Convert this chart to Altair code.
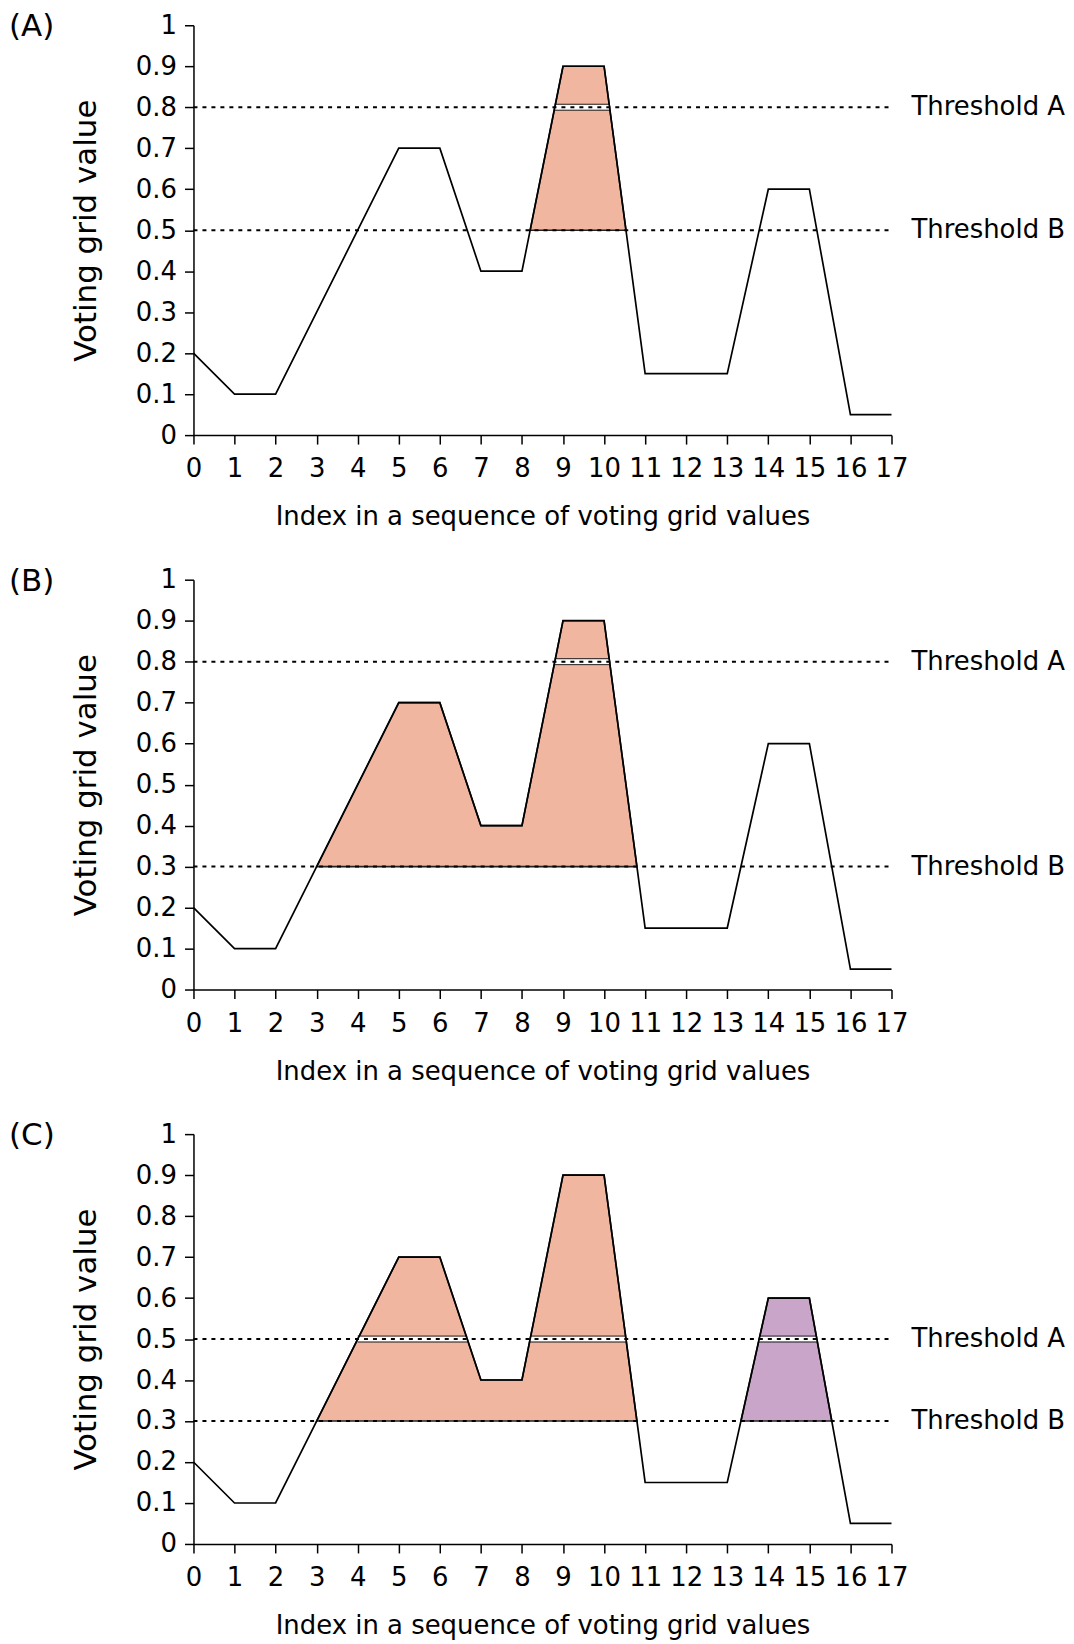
import altair as alt
import pandas as pd

# ---- data ----
index = list(range(18))
values = [0.2, 0.1, 0.1, 0.3, 0.5, 0.7, 0.7, 0.4, 0.4, 0.9, 0.9, 0.15, 0.15, 0.15, 0.6, 0.6, 0.05, 0.05]
panel_labels = ["(A)", "(B)", "(C)"]
thresholds_a = [0.8, 0.8, 0.5]
thresholds_b = [0.5, 0.3, 0.3]
region_colors = ["#F0B6A0", "#C9A6C9"]
x_ticks = list(range(18))
y_ticks = [0, 0.1, 0.2, 0.3, 0.4, 0.5, 0.6, 0.7, 0.8, 0.9, 1]
x_title = "Index in a sequence of voting grid values"
y_title = "Voting grid value"

FONT = "DejaVu Sans"
W, H = 700, 411


def with_crossings(level):
    pts = []
    for i in range(len(index)):
        x, v = index[i], values[i]
        if i > 0:
            x0, v0 = index[i - 1], values[i - 1]
            if (v0 - level) * (v - level) < 0:
                xc = x0 + (level - v0) / (v - v0) * (x - x0)
                pts.append((xc, level))
        pts.append((x, v))
    return pts


def runs_above(level):
    pts = with_crossings(level)
    runs, cur = [], []
    for p in pts:
        if p[1] >= level - 1e-12:
            cur.append(p)
        else:
            if len(cur) >= 2:
                runs.append(cur)
            cur = []
    if len(cur) >= 2:
        runs.append(cur)
    return runs


def panel(k):
    ta, tb = thresholds_a[k], thresholds_b[k]
    area_rows, band_rows = [], []
    rid = 0
    high_runs = runs_above(ta)
    for run in runs_above(tb):
        if max(p[1] for p in run) <= ta:
            continue
        col = region_colors[min(rid, len(region_colors) - 1)]
        for (x, v) in run:
            area_rows.append({"x": x, "y": v, "y2": tb, "region": f"r{rid}", "color": col})
        xs, xe = run[0][0], run[-1][0]
        for hr in high_runs:
            if hr[0][0] >= xs - 1e-9 and hr[-1][0] <= xe + 1e-9:
                band_rows.append({"x": hr[0][0], "x2": hr[-1][0], "y": ta})
        rid += 1

    xscale = alt.Scale(domain=[0, 17], nice=False, zero=False)
    yscale = alt.Scale(domain=[0, 1], nice=False)

    line_df = pd.DataFrame({"x": index, "y": values})
    base_line = alt.Chart(line_df).mark_line(color="black", strokeWidth=1.7).encode(
        x=alt.X("x:Q", scale=xscale,
                axis=alt.Axis(values=x_ticks, format="d", title=x_title)),
        y=alt.Y("y:Q", scale=yscale,
                axis=alt.Axis(values=y_ticks, format="~g", title=y_title)),
    )

    area = alt.Chart(pd.DataFrame(area_rows)).mark_area(
        stroke="#222222", strokeWidth=1.6, opacity=1
    ).encode(
        x=alt.X("x:Q", scale=xscale),
        y=alt.Y("y:Q", scale=yscale),
        y2="y2:Q",
        fill=alt.Fill("color:N", scale=None, legend=None),
        detail="region:N",
    )

    band_df = pd.DataFrame(band_rows)
    band = alt.Chart(band_df).mark_rule(color="white", strokeWidth=5).encode(
        x=alt.X("x:Q", scale=xscale), x2="x2:Q", y=alt.Y("y:Q", scale=yscale)
    )
    band_top = alt.Chart(band_df).mark_rule(color="#222222", strokeWidth=1, yOffset=-3).encode(
        x=alt.X("x:Q", scale=xscale), x2="x2:Q", y=alt.Y("y:Q", scale=yscale)
    )
    band_bot = alt.Chart(band_df).mark_rule(color="#222222", strokeWidth=1, yOffset=3).encode(
        x=alt.X("x:Q", scale=xscale), x2="x2:Q", y=alt.Y("y:Q", scale=yscale)
    )

    thr_df = pd.DataFrame({
        "x": [0, 0], "x2": [17, 17], "y": [ta, tb],
        "label": ["Threshold A", "Threshold B"],
    })
    thr = alt.Chart(thr_df).mark_rule(color="black", strokeWidth=2, strokeDash=[4, 5]).encode(
        x=alt.X("x:Q", scale=xscale), x2="x2:Q", y=alt.Y("y:Q", scale=yscale)
    )
    thr_text = alt.Chart(thr_df).mark_text(
        align="left", baseline="middle", dx=20, font=FONT, fontSize=26, color="black"
    ).encode(x=alt.X("x2:Q", scale=xscale), y=alt.Y("y:Q", scale=yscale), text="label:N")

    lab = alt.Chart(pd.DataFrame({"t": [panel_labels[k]]})).mark_text(
        align="left", baseline="middle", font=FONT, fontSize=31, color="black"
    ).encode(x=alt.value(-185), y=alt.value(2), text="t:N")

    layers = [area, band, band_top, band_bot, thr, thr_text, base_line, lab]
    return alt.layer(*layers).properties(width=W, height=H)


chart = alt.vconcat(panel(0), panel(1), panel(2), spacing=36).properties(
    padding={"left": 1, "top": 1, "right": 0, "bottom": 0}
).configure_view(
    stroke=None
).configure_axis(
    grid=False,
    domainColor="black", domainWidth=1.5,
    tickColor="black", tickWidth=1.5, tickSize=9,
    labelFont=FONT, labelFontSize=26, labelColor="black",
    titleFont=FONT, titleColor="black", titleFontWeight="normal",
).configure_axisX(
    labelPadding=12, titleFontSize=26, titlePadding=22, labelFlush=False,
).configure_axisY(
    labelPadding=8, titleFontSize=31, titlePadding=33,
)

chart.save("out.html", embed_options={"renderer": "svg", "actions": False})
